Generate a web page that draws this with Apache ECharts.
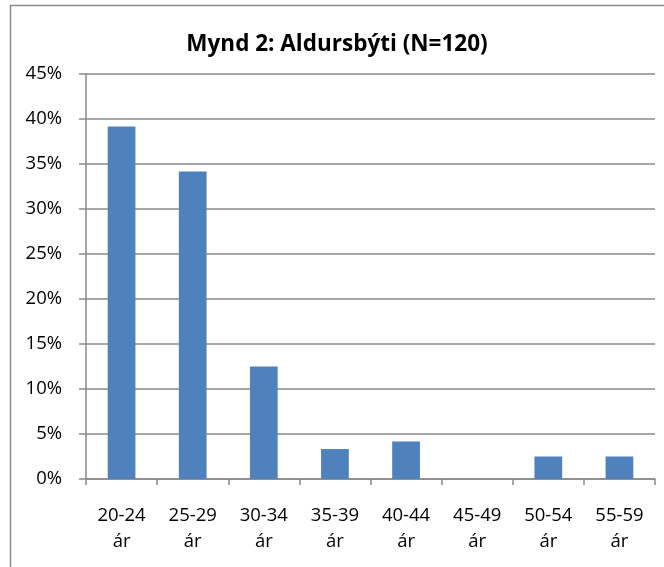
<!DOCTYPE html>
<html>
<head>
<meta charset="utf-8">
<script src="https://cdn.jsdelivr.net/npm/echarts@6/dist/echarts.min.js"></script>
<style>html,body{margin:0;padding:0;background:#fff}#c{width:664px;height:567px}</style>
</head>
<body>
<div id="c"></div>
<script>
const titleText = 'Mynd 2: Aldursbýti (N=120)';
const categories = ['20-24\nár', '25-29\nár', '30-34\nár', '35-39\nár', '40-44\nár', '45-49\nár', '50-54\nár', '55-59\nár'];
const values = [39.17, 34.17, 12.5, 3.33, 4.17, 0, 2.5, 2.5];
const yTicks = { min: 0, max: 45, interval: 5 };

const font = '"Open Sans", "Noto Sans", sans-serif';
const chart = echarts.init(document.getElementById('c'), null, { renderer: 'canvas' });
chart.setOption({
  animation: false,
  backgroundColor: '#fff',
  graphic: [{
    type: 'rect',
    shape: { x: 10.5, y: 5.5, width: 700, height: 600 },
    style: { fill: 'none', stroke: '#8a8a8a', lineWidth: 1.5 },
    z: 100
  }],
  title: {
    text: titleText,
    left: 332, textAlign: 'center',
    top: 28,
    textStyle: { fontFamily: font, fontWeight: 'bold', fontSize: 22.5, color: '#000' }
  },
  grid: { left: 86, right: 9, top: 74, bottom: 88, containLabel: false },
  xAxis: {
    type: 'category',
    data: categories,
    axisLine: { lineStyle: { color: '#8a8a8a', width: 1.5 } },
    axisTick: { show: true, length: 6, lineStyle: { color: '#8a8a8a', width: 1.5 } },
    axisLabel: { color: '#000', fontFamily: font, fontSize: 18.5, lineHeight: 26, margin: 24, interval: 0 }
  },
  yAxis: {
    type: 'value',
    min: yTicks.min, max: yTicks.max, interval: yTicks.interval,
    axisLine: { show: true, lineStyle: { color: '#8a8a8a', width: 1.5 } },
    axisTick: { show: true, length: 7, lineStyle: { color: '#8a8a8a', width: 1.5 } },
    splitLine: { lineStyle: { color: '#8a8a8a', width: 1.5 } },
    axisLabel: { color: '#000', fontFamily: font, fontSize: 18.5, margin: 24, formatter: '{value}%' }
  },
  series: [{
    type: 'bar',
    data: values,
    barWidth: '39%',
    itemStyle: { color: '#4F81BD' }
  }]
});
</script>
</body>
</html>
